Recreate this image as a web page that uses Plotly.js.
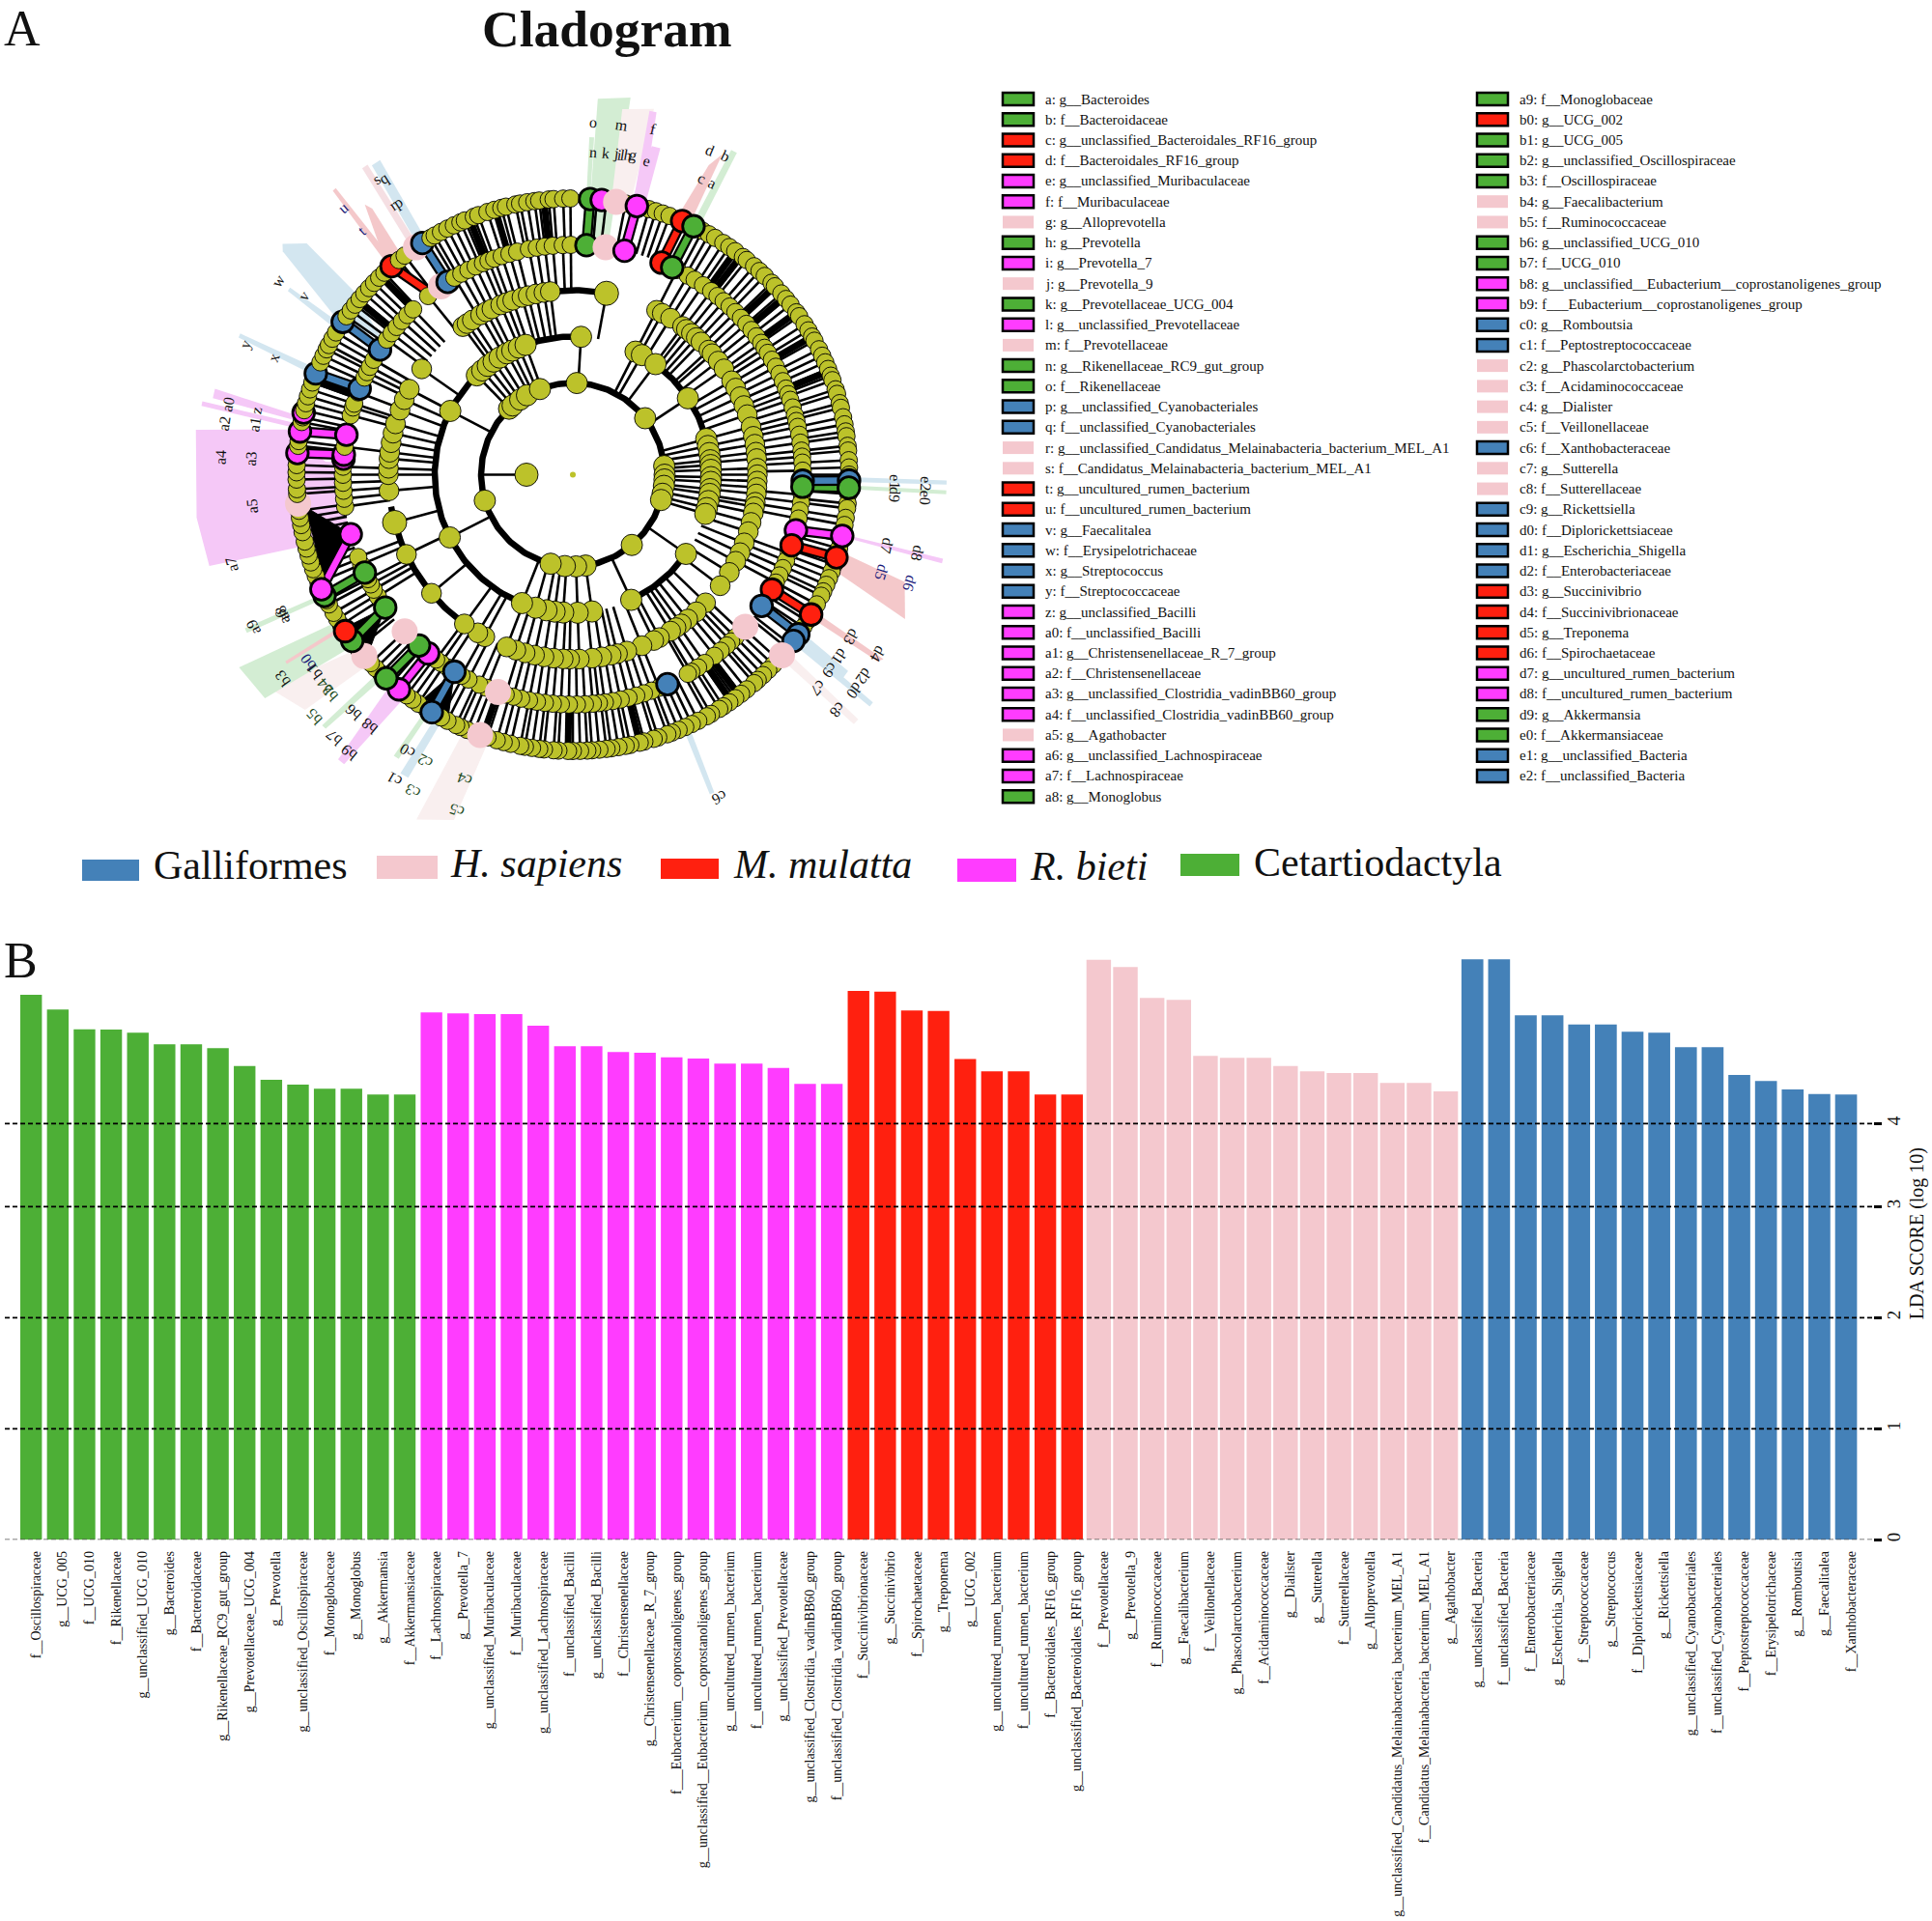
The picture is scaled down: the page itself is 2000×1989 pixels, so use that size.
<!DOCTYPE html>
<html><head><meta charset="utf-8">
<script src="https://cdn.plot.ly/plotly-3.0.1.min.js"></script>
<style>html,body{margin:0;padding:0;background:#fff}</style></head>
<body><div id="chart" style="width:2000px;height:1989px"></div>
<script>
// ---------- Panel B data ----------
const groupNames=['Cetartiodactyla','R. bieti','M. mulatta','H. sapiens','Galliformes'];
const catCet=['f__Oscillospiraceae','g__UCG_005','f__UCG_010','f__Rikenellaceae','g__unclassified_UCG_010','g__Bacteroides','f__Bacteroidaceae','g__Rikenellaceae_RC9_gut_group','g__Prevotellaceae_UCG_004','g__Prevotella','g__unclassified_Oscillospiraceae','f__Monoglobaceae','g__Monoglobus','g__Akkermansia','f__Akkermansiaceae'];
const catBie=['f__Lachnospiraceae','g__Prevotella_7','g__unclassified_Muribaculaceae','f__Muribaculaceae','g__unclassified_Lachnospiraceae','f__unclassified_Bacilli','g__unclassified_Bacilli','f__Christensenellaceae','g__Christensenellaceae_R_7_group','f___Eubacterium__coprostanoligenes_group','g__unclassified__Eubacterium__coprostanoligenes_group','g__uncultured_rumen_bacterium','f__uncultured_rumen_bacterium','g__unclassified_Prevotellaceae','g__unclassified_Clostridia_vadinBB60_group','f__unclassified_Clostridia_vadinBB60_group'];
const catMul=['f__Succinivibrionaceae','g__Succinivibrio','f__Spirochaetaceae','g__Treponema','g__UCG_002','g__uncultured_rumen_bacterium','f__uncultured_rumen_bacterium','f__Bacteroidales_RF16_group','g__unclassified_Bacteroidales_RF16_group'];
const catSap=['f__Prevotellaceae','g__Prevotella_9','f__Ruminococcaceae','g__Faecalibacterium','f__Veillonellaceae','g__Phascolarctobacterium','f__Acidaminococcaceae','g__Dialister','g__Sutterella','f__Sutterellaceae','g__Alloprevotella','g__unclassified_Candidatus_Melainabacteria_bacterium_MEL_A1','f__Candidatus_Melainabacteria_bacterium_MEL_A1','g__Agathobacter'];
const catGal=['g__unclassified_Bacteria','f__unclassified_Bacteria','f__Enterobacteriaceae','g__Escherichia_Shigella','f__Streptococcaceae','g__Streptococcus','f__Diplorickettsiaceae','g__Rickettsiella','g__unclassified_Cyanobacteriales','f__unclassified_Cyanobacteriales','f__Peptostreptococcaceae','f__Erysipelotrichaceae','g__Romboutsia','g__Faecalitalea','f__Xanthobacteraceae'];
const valCet=[4.907,4.774,4.597,4.594,4.565,4.461,4.461,4.426,4.266,4.142,4.098,4.061,4.061,4.009,4.009];
const valBie=[4.748,4.739,4.733,4.733,4.629,4.443,4.443,4.391,4.385,4.344,4.333,4.287,4.287,4.249,4.104,4.104];
const valMul=[4.942,4.936,4.765,4.762,4.329,4.217,4.217,4.009,4.009];
const valSap=[5.223,5.157,4.878,4.861,4.357,4.339,4.339,4.266,4.217,4.203,4.203,4.113,4.113,4.037];
const valGal=[5.226,5.226,4.722,4.722,4.640,4.640,4.574,4.565,4.435,4.435,4.185,4.130,4.055,4.014,4.009];
// the printed axis is compressed between 3 and 4, so the "4" label sits lower than a linear position
const yTickVals=[0,1,2,3,3.748];
const yTickText=['0','1','2','3','4'];

// ---------- Panel A legend ----------
const legendCol1=[['a: g__Bacteroides','C'],['b: f__Bacteroidaceae','C'],['c: g__unclassified_Bacteroidales_RF16_group','M'],['d: f__Bacteroidales_RF16_group','M'],['e: g__unclassified_Muribaculaceae','R'],['f: f__Muribaculaceae','R'],['g: g__Alloprevotella','H'],['h: g__Prevotella','C'],['i: g__Prevotella_7','R'],['j: g__Prevotella_9','H'],['k: g__Prevotellaceae_UCG_004','C'],['l: g__unclassified_Prevotellaceae','R'],['m: f__Prevotellaceae','H'],['n: g__Rikenellaceae_RC9_gut_group','C'],['o: f__Rikenellaceae','C'],['p: g__unclassified_Cyanobacteriales','G'],['q: f__unclassified_Cyanobacteriales','G'],['r: g__unclassified_Candidatus_Melainabacteria_bacterium_MEL_A1','H'],['s: f__Candidatus_Melainabacteria_bacterium_MEL_A1','H'],['t: g__uncultured_rumen_bacterium','M'],['u: f__uncultured_rumen_bacterium','M'],['v: g__Faecalitalea','G'],['w: f__Erysipelotrichaceae','G'],['x: g__Streptococcus','G'],['y: f__Streptococcaceae','G'],['z: g__unclassified_Bacilli','R'],['a0: f__unclassified_Bacilli','R'],['a1: g__Christensenellaceae_R_7_group','R'],['a2: f__Christensenellaceae','R'],['a3: g__unclassified_Clostridia_vadinBB60_group','R'],['a4: f__unclassified_Clostridia_vadinBB60_group','R'],['a5: g__Agathobacter','H'],['a6: g__unclassified_Lachnospiraceae','R'],['a7: f__Lachnospiraceae','R'],['a8: g__Monoglobus','C']];
const legendCol2=[['a9: f__Monoglobaceae','C'],['b0: g__UCG_002','M'],['b1: g__UCG_005','C'],['b2: g__unclassified_Oscillospiraceae','C'],['b3: f__Oscillospiraceae','C'],['b4: g__Faecalibacterium','H'],['b5: f__Ruminococcaceae','H'],['b6: g__unclassified_UCG_010','C'],['b7: f__UCG_010','C'],['b8: g__unclassified__Eubacterium__coprostanoligenes_group','R'],['b9: f___Eubacterium__coprostanoligenes_group','R'],['c0: g__Romboutsia','G'],['c1: f__Peptostreptococcaceae','G'],['c2: g__Phascolarctobacterium','H'],['c3: f__Acidaminococcaceae','H'],['c4: g__Dialister','H'],['c5: f__Veillonellaceae','H'],['c6: f__Xanthobacteraceae','G'],['c7: g__Sutterella','H'],['c8: f__Sutterellaceae','H'],['c9: g__Rickettsiella','G'],['d0: f__Diplorickettsiaceae','G'],['d1: g__Escherichia_Shigella','G'],['d2: f__Enterobacteriaceae','G'],['d3: g__Succinivibrio','M'],['d4: f__Succinivibrionaceae','M'],['d5: g__Treponema','M'],['d6: f__Spirochaetaceae','M'],['d7: g__uncultured_rumen_bacterium','R'],['d8: f__uncultured_rumen_bacterium','R'],['d9: g__Akkermansia','C'],['e0: f__Akkermansiaceae','C'],['e1: g__unclassified_Bacteria','G'],['e2: f__unclassified_Bacteria','G']];

// ---------- Cladogram: clockwise angle from north (degrees) of the nodes on each ring ----------
const ring1=[270];
const ring2=[2.5,52,84.6,90,93,97,102,106,140,172,178,185,194,253.6,316,319,325,330,339];
const ring3=[3.4,27,30,36.8,56.4,75,78,81,84,86,88,91,93,96,98,101,104,106.5,125,155,172,178,184,187.6,191,195.6,201.6,243,297.5,316,319,322,325,328,331.5,334,337,340];
const ring4=[10.5,27,29,32,36.5,38,40,42,44,47.5,49,52,55,59.4,62,65,68,71,75,78,80.5,83,85,88,90,92,94,96,98.6,100,102,105,108,111.7,115,118,122,127,134,138,141.5,144,146,148,152,154,158,163,166,168,171,174,178,181,183,186,189,192,195,198,201,208.5,211,216,230,244.4,255,265,270,272,275,277,280,283,286,290.5,294,297.6,305,323.4,325,327,330,332,334,337,339,341,344,346,348.5,351,353];
const ring5=[27,30,32,34.5,37,39,41,43,45,47,49,51,53,55,56.5,58,60,62,64,66,68,69.5,71,73,75,76.5,78,80,82,84,85.5,87,89,95,97,99,101,110,112,114,116,118,133,135,136.5,138,140,142,145,147,149,150,158,160,162,164,166,168,170,172,173.5,175,177,179,181,183,185,187,189,191,193,195,197,202,204,207,209,213,215,216.5,238,240,241.5,243,247,249,262,264,266,268,270,272,277,285,287,288,291,295,296.5,298,300,306,308,310,312,314,316,321,329,331,333,335,337,338.5,340,342,344,346,349,351,353,355,357.5,359.5];
const ring6=[5,7,11,16,17.5,19,20.5,28,29.5,31,33,34.5,36,38,39,41,42.5,44,46,47,49,50.5,52,54,55,57,58.5,60,61,63,64.5,66,67.5,69,70,72,73,75,76,78,79.5,81,82,84,85,87,88.5,90,94,96,97,99,100.5,104,105.5,109,110.5,112,113.5,115,116,118,122,123.5,128,129,132,133.5,135,136.5,138,139,141,142.5,144,145.5,147,148,150,151,153,154.5,156,157.5,159,160,162,163,165,166,168,169,170.5,172,173,174.5,176,177,178.5,180,181,183,184,186,187,188.5,190,191,193,194.5,196,198,201,202.5,204,205,207,208.5,212,214,215.5,217,221,224,225.5,227,231,232,234,237,238.5,240,242,243,247,248.5,250,251.5,253,254.5,256,258,259.5,261,262.5,266,267,269,270.5,272,276,277,281,282,283.5,285,286.5,288,289.5,294,295.5,297,298,299.5,301,305,306.5,308,309.5,311,312.5,314,315.5,317,321,322.5,329,330,331.5,333,334.5,336,337,339,340,342,343.5,345,346,348,349,350.5,352,353,355,356,358,359.5];
const bigNodes4=[255,10.5];
// highlighted nodes: [angle, class]
const hi5=[[3.4,'C'],[8.2,'H'],[13,'R'],[25.6,'C'],[22.7,'M'],[327,'G'],[325,'H'],[303,'G'],[292,'G'],[280,'R'],[275,'R'],[274,'R'],[255,'R'],[234.7,'C'],[244.8,'C'],[227,'H'],[222,'C'],[219,'R'],[211,'G'],[199,'H'],[155.7,'G'],[131.4,'H'],[124.8,'G'],[120,'M'],[107.9,'M'],[104,'R'],[93,'C'],[91.5,'G']];
const hi6=[[3.6,'C'],[6,'R'],[9,'H'],[13.4,'R'],[25.9,'C'],[23.3,'M'],[327,'G'],[325.4,'H'],[319,'M'],[303.6,'G'],[291.5,'G'],[283,'R'],[279,'R'],[274.5,'R'],[264,'H'],[245.5,'R'],[244,'C'],[235.5,'M'],[233,'C'],[229,'H'],[222.5,'C'],[219,'R'],[210.7,'G'],[199.6,'H'],[130.8,'H'],[127,'G'],[125.3,'G'],[120.4,'M'],[107.4,'M'],[102.8,'R'],[92.7,'C'],[91.2,'G']];
// coloured links from ring 5 to ring 6: [angle5, angle6, class]
const links=[[3.4,3.6,'C'],[13,13.4,'R'],[22.7,23.3,'M'],[25.6,25.9,'C'],[327,327,'G'],[322,319,'M'],[303,303.6,'G'],[292,291.5,'G'],[280,279,'R'],[275,274.5,'R'],[255,245.5,'R'],[244.8,244,'C'],[234.7,233,'C'],[222,222.5,'C'],[219,219,'R'],[211,210.7,'G'],[124.8,125.3,'G'],[120,120.4,'M'],[107.9,107.4,'M'],[104,102.8,'R'],[93,92.7,'C'],[91.5,91.2,'G']];
// thick continuous ring arcs [ring radius index, from, to]
const arcs=[[2,0,360],[3,316,363.4],[3,36.8,108],[3,125,155],[3,172,320],[4,353,370.5],[4,216,260]];
// shaded clade sectors: class tint, then [angle, radius] outline
const wedges=[
['H2',[[203,286],[204.4,392],[199,378],[197.5,286]]],
['C',[[3.5,240],[3.8,390],[8.7,395],[8.8,240]]],
['H2',[[8,290],[7.7,382],[12.5,388],[12,290]]],
['R',[[13,238],[11.9,385],[13,385],[14.5,290]]],
['R',[[12,286],[13.5,350],[15,350],[15,286]]],
['C',[[2.8,290],[2.8,350],[3.6,350],[3.6,290]]],
['C',[[25.5,286],[26,374],[27,374],[27,286]]],
['M',[[22,286],[23.7,350],[25,366],[25,286]]],
['G',[[326,286],[327,382],[328.5,382],[328,286]]],
['H',[[324.5,286],[325.5,385],[326.5,385],[326,286]]],
['M',[[318.5,286],[319.8,385],[320.4,385],[320,286]]],
['M',[[318,286],[322.4,353],[323,345],[322,286]]],
['G',[[303,286],[307.6,379],[308.5,384],[311,365],[310,297],[305.5,244]]],
['G',[[301.5,286],[302.8,351],[303.5,351],[303,286]]],
['G',[[291,286],[292.3,374],[293,374],[292.5,286]]],
['R',[[281,286],[282,381],[283.5,381],[282,286]]],
['R',[[279.5,286],[280.5,391],[281.2,391],[280.5,286]]],
['R',[[276.8,393],[263.5,392],[255.9,388],[255.2,297],[254,240],[264,239],[270,240],[279,299]]],
['R',[[272.2,238],[272.2,390],[273,390],[273,238]]],
['G',[[90.5,286],[90.9,387],[91.5,387],[91.5,286]]],
['C',[[92.2,286],[92.4,387],[93,387],[93,286]]],
['R',[[102.4,286],[102.8,393],[103.5,393],[103,286]]],
['M',[[106,286],[107.9,361],[113.5,375],[110,286]]],
['M',[[119.5,286],[120.7,374],[121.5,370],[121,286]]],
['G',[[126,286],[127.2,390],[128,390],[127.5,286]]],
['G',[[124.5,286],[125.5,350],[127,350],[126,286]]],
['H2',[[129.5,286],[130.6,389],[131.6,389],[131.5,286]]],
['G',[[155.2,286],[156,360],[156.8,360],[156.5,286]]],
['G',[[208,286],[208.5,357],[210,357],[209.5,286]]],
['C',[[211,286],[211.5,345],[212.5,345],[212,286]]],
['R',[[217,286],[218.3,382],[219.5,382],[221,286]]],
['C',[[223,286],[224.2,367],[225,367],[224.5,286]]],
['H2',[[231,286],[234.8,384],[228.7,369],[227,286]]],
['C',[[238,286],[240,399],[234,394],[232,286]]],
['C',[[243.5,286],[244.1,375],[244.9,375],[244.5,286]]],
['M',[[236,286],[236.5,355],[237,355],[236.8,286]]]
];
// dense fans of children that print as solid black
const blackFans=[[[255,238],[263,278],[247.3,280]],[[234.7,238],[229,280],[236,280]],[[211,238],[207,285],[214,285]]];
const blackBands=[354,343.7,338,309,145,143,68,60,50,47,54,36,37.5,199,181,166,290,316];
// clade letters: [text, angle, radius, colour class]
const cladeLabels=[['o',3.3,366],['m',8,366],['f',13,367],['n',3.6,335],['k',5.9,335],['j',7.6,335],['i',8.3,335],['l',8.9,335],['h',9.8,336],['g',10.7,336],['e',13.3,334],['d',22.9,365],['b',25.6,366],['c',23.4,335],['a',25.5,335],['s',326.4,367],['q',327.5,364],['r',326.3,335],['p',327.3,335],['u',319.2,365,'n'],['t',319.2,334,'n'],['w',303.4,365],['v',303.6,335],['y',291.7,365],['x',291.4,333],['a0',281.5,364],['z',281.5,334],['a2',278.4,365],['a1',278.9,333],['a4',272.8,365],['a3',272.8,334],['a5',264.4,334],['a7',255.2,365],['a9',244.4,367],['a8',244.5,333],['a6',244,335],['b3',234.9,367],['b0',234.8,336,'n'],['b1',232.8,336],['b4',229.5,338,'d'],['b2',228,338,'d'],['b5',226.9,367,'d'],['b6',222.8,335],['b7',222.2,368],['b8',218.9,335],['b9',218.9,369],['c0',210.9,334],['c1',210.4,366],['c2',207.3,334,'d'],['c3',206.9,367,'d'],['c4',199.5,335,'d'],['c5',199,368,'d'],['c6',155.6,367],['c7',131,336],['c8',131.6,367],['c9',127.3,334],['d1',124.3,334],['d0',127.5,367],['d2',124.7,366],['d3',120.3,334],['d4',120.4,366],['d5',107.6,335,'n'],['d6',107.9,366,'n'],['d7',102.7,333],['d8',102.8,366],['e1',91.3,334],['d9',93.6,334],['e2',91.5,366],['e0',93.7,366]];

// ---------- Styling and page geometry ----------
const colors={C:'#4DAF36',R:'#FF3CFF',M:'#FF200F',H:'#F4C8CE',G:'#4481B8'};
const tints={C:'#d3edd3',R:'#f5c8f7',M:'#f4c8ca',H:'#f5dfe3',H2:'#f9efef',G:'#d3e6f0'};
const OLIVE='#bcc22a';
const ringR=[0,48,95,143,191,238,286];
const CX=593,CY=491.5;
const SERIF='"Liberation Serif","Times New Roman",serif';
const px=(t,r)=>CX+r*Math.sin(t*Math.PI/180), py=(t,r)=>CY-r*Math.cos(t*Math.PI/180);

const traces=[];
// --- bars ---
const barGroups=[[catCet,valCet,'C',0.81],[catBie,valBie,'R',0.81],[catMul,valMul,'M',0.81],[catSap,valSap,'H',0.92],[catGal,valGal,'G',0.82]];
let idx=0;const tickVals=[],tickText=[];
barGroups.forEach((g,gi)=>{
  const xs=g[0].map((c,i)=>{tickVals.push(idx);tickText.push(c);return idx++;});
  traces.push({type:'bar',x:xs,y:g[1],name:groupNames[gi],width:g[3],marker:{color:colors[g[2]],line:{width:0}},xaxis:'x',yaxis:'y',hoverinfo:'x+y'});
});
// --- cladogram on page axes ---
const P={xaxis:'x2',yaxis:'y2',hoverinfo:'skip',showlegend:false};
wedges.forEach(w=>{
  const pts=w[1].concat([w[1][0]]);
  traces.push({...P,type:'scatter',mode:'lines',x:pts.map(p=>px(p[0],p[1])),y:pts.map(p=>py(p[0],p[1])),fill:'toself',fillcolor:tints[w[0]],line:{width:0,color:tints[w[0]]}});
});
blackFans.forEach(f=>{const pts=f.concat([f[0]]);
  traces.push({...P,type:'scatter',mode:'lines',x:pts.map(p=>px(p[0],p[1])),y:pts.map(p=>py(p[0],p[1])),fill:'toself',fillcolor:'#000',line:{width:1,color:'#000'}});
});
function radial(list,r0,r1,w){const x=[],y=[];list.forEach(t=>{x.push(px(t,r0),px(t,r1),null);y.push(py(t,r0),py(t,r1),null);});
  traces.push({...P,type:'scatter',mode:'lines',x,y,line:{color:'#000',width:w}});}
radial(ring1,48,95,2.6);radial(ring3,95,143,2.6);radial(ring4,143,191,2.6);radial(ring5,191,238,2.6);radial(ring6,238,286,2.6);
radial(blackBands,238,286,7);
arcs.forEach(a=>{const x=[],y=[];for(let t=a[1];t<=a[2];t+=1){x.push(px(t,ringR[a[0]]));y.push(py(t,ringR[a[0]]));}
  traces.push({...P,type:'scatter',mode:'lines',x,y,line:{color:'#000',width:6.5}});});
links.forEach(l=>{
  const x=[px(l[0],238),px(l[1],286)],y=[py(l[0],238),py(l[1],286)];
  traces.push({...P,type:'scatter',mode:'lines',x,y,line:{color:'#000',width:11}});
  traces.push({...P,type:'scatter',mode:'lines',x,y,line:{color:colors[l[2]],width:6.5}});
});
// nodes of one ring: clockwise paint order, except highlighted nodes of the right and lower half, which sit on top
const onTop=n=>n[1]!==null&&n[0]<250;
function nodes(list,hi,r,size){
  const all=list.map(t=>[t,null]).concat(hi).sort((a,b)=>(onTop(a)-onTop(b))||(a[0]-b[0]));
  traces.push({...P,type:'scatter',mode:'markers',x:all.map(n=>px(n[0],r)),y:all.map(n=>py(n[0],r)),
    marker:{opacity:1,size:all.map(n=>n[1]===null?(r===191&&bigNodes4.includes(n[0])?25:size):(n[1]==='H'?27:22.5)),
      color:all.map(n=>n[1]===null?OLIVE:colors[n[1]]),
      line:{color:'#000',width:all.map(n=>n[1]===null?0.9:(n[1]==='H'?0:2.8))}}});
}
traces.push({...P,type:'scatter',mode:'markers',x:[CX],y:[CY],marker:{size:6,color:OLIVE,line:{width:0}}});
nodes(ring1,[],48,24);nodes(ring2,[],95,22);nodes(ring3,[],143,22);nodes(ring4,[],191,20.5);
nodes(ring5,hi5,238,18);nodes(ring6,hi6,286,18);

// --- annotations & shapes ---
const ann=[],shapes=[];
const T=(x,y,text,size,opt={})=>ann.push({xref:'x2',yref:'y2',x,y,text,showarrow:false,xanchor:opt.xa||'left',yanchor:'middle',textangle:opt.a||0,font:{family:SERIF,size,color:opt.c||'#111'},captureevents:false});
T(2,29,'A',52);T(497,30,'<b>Cladogram</b>',53.5);T(2,994,'B',52);
[[85,144,890,912,'G','Galliformes',157,896,''],[390,453,886,910,'H','H. sapiens',464,894,'i'],[684,744,889,910,'M','M. mulatta',757,895,'i'],[991,1052,889,913,'R','R. bieti',1064,897,'i'],[1222,1283,884,907,'C','Cetartiodactyla',1296,893,'']].forEach(e=>{
  shapes.push({type:'rect',xref:'x2',yref:'y2',x0:e[0],x1:e[1],y0:e[2],y1:e[3],fillcolor:colors[e[4]],line:{width:0}});
  T(e[6],e[7],e[8]?'<i>'+e[5]+'</i>':e[5],42);
});
const ROW=21.24,ROW0=102.5;
[[legendCol1,1037,1080],[legendCol2,1528,1571]].forEach(col=>{
  col[0].forEach((e,i)=>{
    const y=ROW0+i*ROW;
    shapes.push({type:'rect',xref:'x2',yref:'y2',x0:col[1]+1,x1:col[1]+33,y0:y-6.5,y1:y+6.5,fillcolor:colors[e[1]],line:e[1]==='H'?{width:0}:{color:'#000',width:2.5}});
    T(col[2],y,e[0],15);
  });
});
const labelCol={n:'#1a1a7a',d:'#1f4d1f'};
cladeLabels.forEach(l=>{T(px(l[1],l[2]),py(l[1],l[2]),l[0],16,{a:l[1]>180?l[1]-360:l[1],c:labelCol[l[3]]||'#111'});ann[ann.length-1].xanchor='center';});
// dashed reference lines drawn above the bars
yTickVals.forEach(v=>shapes.push({type:'line',xref:'x domain',yref:'y',x0:0,x1:1,y0:v,y1:v,layer:'above',line:{color:v===0?'#555':'#000',width:v===0?1.5:1.7,dash:'5px,3px'}}));

const H=1989,W=2000,pitch=27.63,c0=32.2,XR=1939;
const layout={
  width:W,height:H,margin:{l:0,r:0,t:0,b:0},paper_bgcolor:'#fff',plot_bgcolor:'rgba(0,0,0,0)',showlegend:false,barmode:'overlay',
  xaxis:{domain:[5/W,XR/W],range:[(5-c0)/pitch,(XR-c0)/pitch],anchor:'y',tickmode:'array',tickvals:tickVals,ticktext:tickText,tickangle:-90,showgrid:false,zeroline:false,showline:false,ticks:'',ticklabelstandoff:8,ticklabelshift:5,tickfont:{family:SERIF,size:14,color:'#111'},automargin:false},
  yaxis:{domain:[(H-1594.3)/H,(H-960)/H],range:[0,(1594.3-960)/115],anchor:'x',side:'right',tickmode:'array',tickvals:yTickVals,ticktext:yTickText,tickangle:-90,showgrid:false,zeroline:false,showline:false,ticks:'outside',ticklen:8,tickwidth:3,tickcolor:'#000',ticklabelstandoff:-4,tickfont:{family:SERIF,size:19,color:'#111'},automargin:false,
    title:{text:'LDA SCORE (log 10)',font:{family:SERIF,size:20,color:'#111'},standoff:7}},
  xaxis2:{domain:[0,1],range:[0,W],anchor:'y2',visible:false,fixedrange:true},
  yaxis2:{domain:[0,1],range:[H,0],anchor:'x2',visible:false,fixedrange:true},
  annotations:ann,shapes
};
Plotly.newPlot('chart',traces,layout,{displayModeBar:false,staticPlot:true});
</script></body></html>
